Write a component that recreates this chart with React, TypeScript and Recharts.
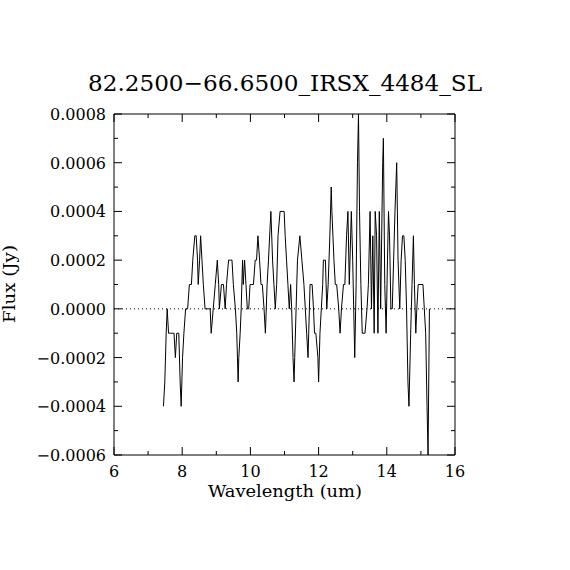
import { LineChart, Line, XAxis, YAxis, ReferenceLine } from 'recharts'

const TITLE = '82.2500\u221266.6500_IRSX_4484_SL'
const X_LABEL = 'Wavelength (um)'
const Y_LABEL = 'Flux (Jy)'

// wavelength samples (um)
const wavelength = [
    7.45, 7.49, 7.53, 7.56, 7.60, 7.66, 7.72, 7.76, 7.80, 7.84, 7.90, 7.94, 7.97, 8.01, 8.05, 8.10,
    8.16, 8.21, 8.27, 8.31, 8.37, 8.41, 8.45, 8.47, 8.51, 8.54, 8.58, 8.62, 8.67, 8.72, 8.78, 8.82,
    8.85, 8.91, 8.97, 9.03, 9.07, 9.09, 9.15, 9.21, 9.26, 9.30, 9.36, 9.42, 9.46, 9.50, 9.56, 9.60,
    9.64, 9.66, 9.70, 9.73, 9.77, 9.79, 9.83, 9.87, 9.91, 9.95, 9.99, 10.04, 10.09, 10.14, 10.18, 10.22,
    10.27, 10.31, 10.35, 10.40, 10.44, 10.49, 10.53, 10.60, 10.65, 10.69, 10.73, 10.77, 10.81, 10.87, 10.93, 10.99,
    11.02, 11.06, 11.10, 11.14, 11.18, 11.21, 11.25, 11.28, 11.30, 11.34, 11.38, 11.45, 11.51, 11.57, 11.61, 11.65,
    11.69, 11.71, 11.75, 11.81, 11.85, 11.88, 11.92, 11.98, 12.00, 12.04, 12.08, 12.12, 12.14, 12.20, 12.24, 12.28,
    12.33, 12.37, 12.39, 12.45, 12.49, 12.53, 12.59, 12.63, 12.67, 12.73, 12.77, 12.82, 12.86, 12.90, 12.96, 13.00,
    13.06, 13.10, 13.14, 13.17, 13.20, 13.24, 13.28, 13.36, 13.42, 13.46, 13.51, 13.55, 13.59, 13.63, 13.66, 13.70,
    13.74, 13.78, 13.82, 13.88, 13.90, 13.94, 13.98, 14.02, 14.05, 14.08, 14.12, 14.16, 14.20, 14.24, 14.29, 14.33,
    14.38, 14.42, 14.46, 14.50, 14.54, 14.58, 14.62, 14.65, 14.70, 14.74, 14.78, 14.81, 14.85, 14.88, 14.92, 15.00,
    15.06, 15.10, 15.14, 15.18, 15.21, 15.25,
]

// flux (Jy)
const flux = [
    -0.0004, -0.0003, -0.0001, 0.0000, -0.0001, -0.0001, -0.0001, -0.0001, -0.0002, -0.0001, -0.0001, -0.0003, -0.0004, -0.0002, -0.0001, 0.0000,
    0.0000, 0.0001, 0.0001, 0.0002, 0.0003, 0.0003, 0.0002, 0.0001, 0.0002, 0.0003, 0.0002, 0.0001, 0.0000, 0.0000, 0.0000, 0.0000,
    -0.0001, 0.0000, 0.0001, 0.0002, 0.0001, 0.0000, 0.0001, 0.0001, 0.0000, 0.0001, 0.0002, 0.0002, 0.0002, 0.0001, 0.0000, -0.0001,
    -0.0003, -0.0002, -0.0001, 0.0000, 0.0002, 0.0001, 0.0002, 0.0001, 0.0000, 0.0000, 0.0001, 0.0001, 0.0001, 0.0002, 0.0002, 0.0003,
    0.0002, 0.0001, 0.0001, 0.0000, -0.0001, 0.0001, 0.0002, 0.0004, 0.0002, 0.0001, 0.0000, 0.0001, 0.0003, 0.0004, 0.0004, 0.0004,
    0.0003, 0.0002, 0.0001, 0.0000, 0.0001, 0.0000, -0.0002, -0.0003, -0.0002, 0.0000, 0.0002, 0.0003, 0.0002, 0.0001, 0.0000, -0.0001,
    -0.0002, -0.0001, 0.0001, 0.0001, 0.0000, -0.0001, -0.0001, -0.0002, -0.0003, -0.0001, 0.0000, 0.0001, 0.0002, 0.0002, 0.0000, 0.0001,
    0.0003, 0.0005, 0.0004, 0.0002, 0.0001, 0.0001, 0.0000, -0.0001, 0.0000, 0.0001, 0.0001, 0.0003, 0.0004, 0.0001, 0.0004, 0.0002,
    -0.0002, 0.0001, 0.0006, 0.0008, 0.0004, 0.0001, -0.0001, -0.0001, 0.0000, 0.0001, 0.0004, 0.0000, 0.0003, -0.0001, 0.0004, 0.0003,
    -0.0001, 0.0004, 0.0000, 0.0006, 0.0007, 0.0001, -0.0001, 0.0002, 0.0004, 0.0003, 0.0000, 0.0000, 0.0002, 0.0004, 0.0006, 0.0002,
    0.0000, 0.0002, 0.0003, 0.0003, 0.0002, 0.0000, -0.0003, -0.0004, -0.0001, 0.0001, 0.0003, 0.0001, -0.0001, 0.0000, 0.0001, 0.0001,
    0.0001, 0.0000, -0.0001, -0.0004, -0.0006, 0.0000,
]

const xTicks = [6, 7, 8, 9, 10, 11, 12, 13, 14, 15, 16]
const yTicks = [
    -0.0006, -0.0005, -0.0004, -0.0003, -0.0002, -0.0001, 0, 0.0001, 0.0002, 0.0003, 0.0004, 0.0005, 0.0006, 0.0007, 0.0008,
]

const data = wavelength.map((w, i) => ({ w, f: flux[i] }))

const FONT = '"DejaVu Serif", "Liberation Serif", serif'
const MAJOR = 8
const MINOR = 4

const isMajorX = (v: number) => v % 2 === 0
const isMajorY = (v: number) => Math.round(v * 1e4) % 2 === 0
const fmtY = (v: number) => {
    const s = Math.abs(v).toFixed(4)
    return v < -1e-9 ? '\u2212' + s : s
}

// ticks point into the plot, IDL style
const BottomTick = ({ x, y, payload }: any) => {
    const major = isMajorX(payload.value)
    return (
        <g>
            <line x1={x} y1={y} x2={x} y2={y - (major ? MAJOR : MINOR)} stroke="#000" />
            {major && (
                <text x={x} y={y + 22} textAnchor="middle" fontFamily={FONT} fontSize={16} fill="#000">
                    {payload.value}
                </text>
            )}
        </g>
    )
}

const TopTick = ({ x, y, payload }: any) => {
    const major = isMajorX(payload.value)
    return <line x1={x} y1={y} x2={x} y2={y + (major ? MAJOR : MINOR)} stroke="#000" />
}

const LeftTick = ({ x, y, payload }: any) => {
    const major = isMajorY(payload.value)
    return (
        <g>
            <line x1={x} y1={y} x2={x + (major ? MAJOR : MINOR)} y2={y} stroke="#000" />
            {major && (
                <text x={x - 8} y={y + 6} textAnchor="end" fontFamily={FONT} fontSize={16} fill="#000">
                    {fmtY(payload.value)}
                </text>
            )}
        </g>
    )
}

const RightTick = ({ x, y, payload }: any) => {
    const major = isMajorY(payload.value)
    return <line x1={x} y1={y} x2={x - (major ? MAJOR : MINOR)} y2={y} stroke="#000" />
}

export default function App() {
    return (
        <div style={{ position: 'absolute', left: 0, top: 0, width: 570, height: 570, background: '#fff' }}>
            <LineChart
                width={570}
                height={570}
                data={data}
                margin={{ top: 113, right: 114, bottom: 85, left: 0 }}
            >
                <XAxis
                    xAxisId="b"
                    dataKey="w"
                    type="number"
                    domain={[6, 16]}
                    ticks={xTicks}
                    interval={0}
                    allowDataOverflow
                    height={30}
                    tickSize={0}
                    tickMargin={0}
                    tickLine={false}
                    stroke="#000"
                    tick={<BottomTick />}
                />
                <XAxis
                    xAxisId="t"
                    orientation="top"
                    dataKey="w"
                    type="number"
                    domain={[6, 16]}
                    ticks={xTicks}
                    interval={0}
                    allowDataOverflow
                    height={1}
                    tickSize={0}
                    tickMargin={0}
                    tickLine={false}
                    stroke="#000"
                    tick={<TopTick />}
                />
                <YAxis
                    yAxisId="l"
                    type="number"
                    domain={[-0.0006, 0.0008]}
                    ticks={yTicks}
                    interval={0}
                    allowDataOverflow
                    width={114}
                    tickSize={0}
                    tickMargin={0}
                    tickLine={false}
                    stroke="#000"
                    tick={<LeftTick />}
                />
                <YAxis
                    yAxisId="r"
                    orientation="right"
                    type="number"
                    domain={[-0.0006, 0.0008]}
                    ticks={yTicks}
                    interval={0}
                    allowDataOverflow
                    width={1}
                    tickSize={0}
                    tickMargin={0}
                    tickLine={false}
                    stroke="#000"
                    tick={<RightTick />}
                />
                <ReferenceLine xAxisId="b" yAxisId="l" y={0} stroke="#000" strokeDasharray="1 3" />
                <Line
                    xAxisId="b"
                    yAxisId="l"
                    type="linear"
                    dataKey="f"
                    stroke="#000"
                    strokeWidth={1}
                    dot={false}
                    isAnimationActive={false}
                />
            </LineChart>
            <svg
                width={570}
                height={570}
                style={{ position: 'absolute', left: 0, top: 0, pointerEvents: 'none' }}
            >
                <text x={285} y={91} textAnchor="middle" fontFamily={FONT} fontSize={23} fill="#000"
                    textLength={394} lengthAdjust="spacingAndGlyphs">
                    {TITLE}
                </text>
                <text x={285} y={497} textAnchor="middle" fontFamily={FONT} fontSize={16} fill="#000"
                    textLength={154} lengthAdjust="spacingAndGlyphs">
                    {X_LABEL}
                </text>
                <text x={15} y={284} textAnchor="middle" fontFamily={FONT} fontSize={17} fill="#000"
                    transform="rotate(-90 15 284)" textLength={78} lengthAdjust="spacingAndGlyphs">
                    {Y_LABEL}
                </text>
            </svg>
        </div>
    )
}
